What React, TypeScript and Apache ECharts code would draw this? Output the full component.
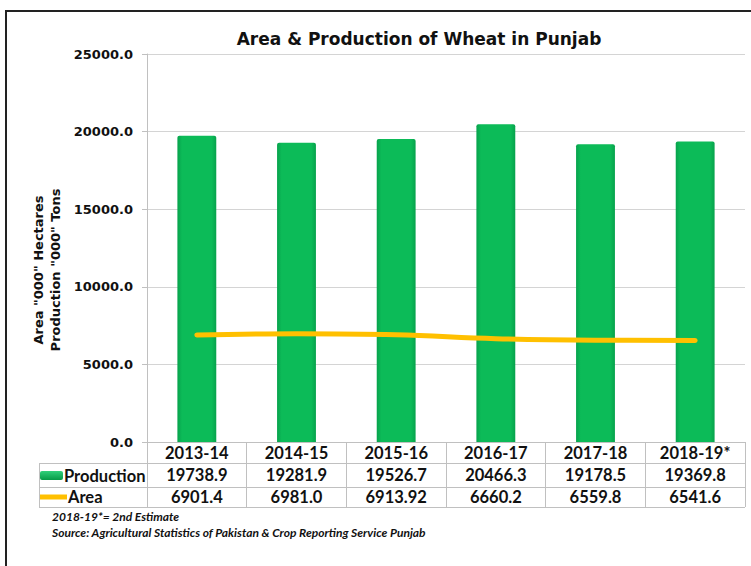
import React, { useEffect, useRef } from "react";
import * as echarts from "echarts";

const categories = ["2013-14", "2014-15", "2015-16", "2016-17", "2017-18", "2018-19*"];
const production = [19738.9, 19281.9, 19526.7, 20466.3, 19178.5, 19369.8];
const productionLabels = ["19738.9", "19281.9", "19526.7", "20466.3", "19178.5", "19369.8"];
const area = [6901.4, 6981.0, 6913.92, 6660.2, 6559.8, 6541.6];
const areaLabels = ["6901.4", "6981.0", "6913.92", "6660.2", "6559.8", "6541.6"];
const yTicks = { min: 0, max: 25000, interval: 5000 };

const TAB_FONT = "Lato, 'Open Sans', sans-serif";
const AX_FONT = "'DejaVu Sans', Verdana, sans-serif";
const TAB_WEIGHT = "bold";

export default function App() {
  const ref = useRef<HTMLDivElement>(null);
  useEffect(() => {
    if (!ref.current) return;
    const chart = echarts.init(ref.current, null, { renderer: "svg" });
    const gridLeft = 147;
    const gridRight = 745;
    const lineColor = "#c0c0c0";
    const tab = { fontFamily: TAB_FONT, fontWeight: TAB_WEIGHT, fontSize: 16.5, color: "#111" };
    chart.setOption({
      animation: false,
      backgroundColor: "#ffffff",
      title: {
        text: "Area & Production of Wheat in Punjab",
        left: 414,
        top: 25,
        textAlign: "center",
        textStyle: { fontFamily: AX_FONT, fontWeight: "bold", fontSize: 17, color: "#111" },
      },
      grid: { left: gridLeft, right: 751 - gridRight, top: 54, bottom: 566 - 442 },
      xAxis: {
        type: "category",
        data: categories,
        boundaryGap: true,
        axisLine: { lineStyle: { color: lineColor, width: 1 } },
        axisTick: { show: true, length: 65, lineStyle: { color: lineColor } },
        axisLabel: {
          margin: 0,
          interval: 0,
          formatter: (v: string, i: number) =>
            `{c|${v}}\n{p|${productionLabels[i]}}\n{a|${areaLabels[i]}}`,
          rich: {
            c: { ...tab, lineHeight: 21 },
            p: { ...tab, lineHeight: 24 },
            a: { ...tab, lineHeight: 20 },
          },
        },
      },
      yAxis: {
        type: "value",
        min: yTicks.min,
        max: yTicks.max,
        interval: yTicks.interval,
        axisLine: { show: true, lineStyle: { color: lineColor } },
        axisTick: { show: true, length: 5, lineStyle: { color: lineColor } },
        axisLabel: {
          margin: 14,
          formatter: (v: number) => v.toFixed(1),
          fontFamily: AX_FONT,
          fontWeight: "bold",
          fontSize: 13,
          color: "#111",
        },
        splitLine: { lineStyle: { color: "#d4d4d4", width: 1 } },
      },
      series: [
        {
          name: "Production",
          type: "bar",
          data: production,
          barWidth: "39%",
          itemStyle: {
            color: new echarts.graphic.LinearGradient(0, 0, 1, 0, [
              { offset: 0, color: "#07a24c" },
              { offset: 0.12, color: "#0cbb58" },
              { offset: 0.88, color: "#0cbb58" },
              { offset: 1, color: "#07a24c" },
            ]),
            borderRadius: [2, 2, 0, 0],
          },
          z: 2,
        },
        {
          name: "Area",
          type: "line",
          data: area,
          smooth: 0.4,
          showSymbol: false,
          lineStyle: { color: "#ffc000", width: 5, cap: "round" },
          itemStyle: { color: "#ffc000" },
          z: 3,
        },
      ],
      graphic: [
        {
          type: "rect",
          shape: { x: 6, y: 11, width: 760, height: 580 },
          style: { fill: "none", stroke: "#222", lineWidth: 2 },
          silent: true,
        },
        {
          type: "text",
          x: 47,
          y: 270,
          rotation: Math.PI / 2,
          style: {
            text: 'Area "000" Hectares\nProduction "000" Tons',
            fontFamily: AX_FONT,
            fontWeight: "bold",
            fontSize: 13,
            lineHeight: 17,
            fill: "#111",
            align: "center",
            verticalAlign: "middle",
          },
        },
        { type: "line", shape: { x1: 39, y1: 463.5, x2: gridRight, y2: 463.5 }, style: { stroke: lineColor, lineWidth: 1 } },
        { type: "line", shape: { x1: 39, y1: 487.5, x2: gridRight, y2: 487.5 }, style: { stroke: lineColor, lineWidth: 1 } },
        { type: "line", shape: { x1: 39, y1: 507.5, x2: gridRight, y2: 507.5 }, style: { stroke: lineColor, lineWidth: 1 } },
        { type: "line", shape: { x1: 39.5, y1: 463, x2: 39.5, y2: 508 }, style: { stroke: lineColor, lineWidth: 1 } },
        {
          type: "rect",
          shape: { x: 40, y: 471, width: 23, height: 9, r: 2 },
          style: {
            fill: new echarts.graphic.LinearGradient(0, 0, 0, 1, [
              { offset: 0, color: "#2fd07a" },
              { offset: 1, color: "#069a47" },
            ]),
          },
        },
        {
          type: "line",
          shape: { x1: 40, y1: 497, x2: 67, y2: 497 },
          style: { stroke: "#ffc000", lineWidth: 5 },
        },
        {
          type: "text",
          x: 64,
          y: 476,
          style: { text: "Production", fontFamily: TAB_FONT, fontWeight: TAB_WEIGHT, fontSize: 16.5, fill: "#111", verticalAlign: "middle" },
        },
        {
          type: "text",
          x: 68,
          y: 497,
          style: { text: "Area", fontFamily: TAB_FONT, fontWeight: TAB_WEIGHT, fontSize: 16.5, fill: "#111", verticalAlign: "middle" },
        },
        {
          type: "text",
          x: 52,
          y: 516,
          style: { text: "2018-19*= 2nd Estimate", fontFamily: TAB_FONT, fontWeight: "bold", fontStyle: "italic", fontSize: 12, fill: "#111", verticalAlign: "middle" },
        },
        {
          type: "text",
          x: 52,
          y: 532,
          style: { text: "Source: Agricultural Statistics of Pakistan & Crop Reporting Service Punjab", fontFamily: TAB_FONT, fontWeight: "bold", fontStyle: "italic", fontSize: 12, fill: "#111", verticalAlign: "middle" },
        },
      ],
    });
    return () => chart.dispose();
  }, []);
  return (
    <div
      ref={ref}
      style={{ position: "absolute", left: 0, top: 0, width: 751, height: 566 }}
    />
  );
}
